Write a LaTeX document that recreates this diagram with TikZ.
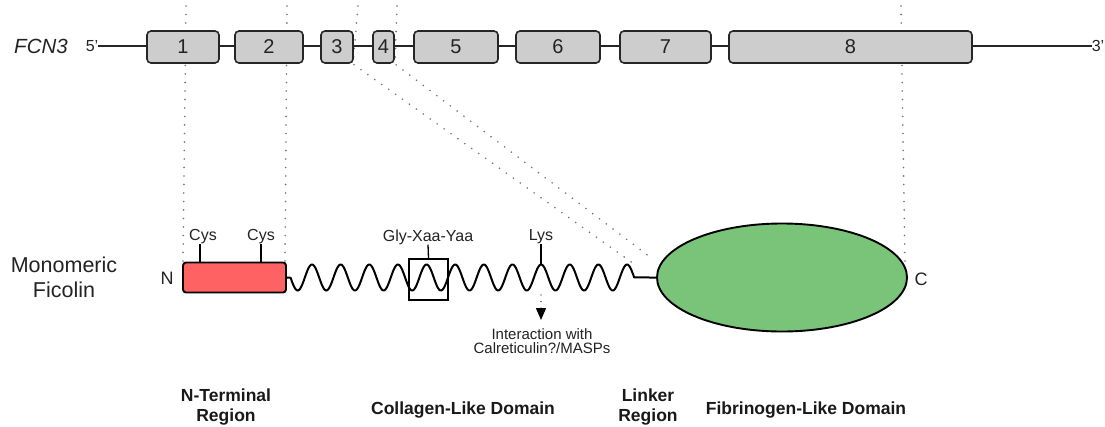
\documentclass[tikz,border=0pt]{standalone}
\usepackage{fontspec}
\setmainfont{Liberation Sans}
\usetikzlibrary{arrows.meta,shapes.geometric}
\definecolor{exgray}{RGB}{205,205,205}
\definecolor{nred}{RGB}{255,98,98}
\definecolor{fgreen}{RGB}{121,196,121}
\definecolor{dotgray}{RGB}{115,115,115}
\definecolor{txt}{RGB}{35,35,35}
\begin{document}
\begin{tikzpicture}[x=1pt,y=-1pt,
  exon/.style={draw=black!85, line width=1.6pt, rounded corners=4pt, fill=exgray,
    minimum height=32pt, inner sep=0pt, text=txt, font=\fontsize{20}{22}\selectfont},
  guide/.style={draw=dotgray, line width=1.8pt, line cap=round, dash pattern=on 0pt off 8.5pt},
  lbl/.style={inner sep=0pt, text=txt, font=\fontsize{16}{18}\selectfont},
  tick/.style={line width=1.3pt},
  region/.style={inner sep=0pt, align=center, text=black!90, font=\bfseries\fontsize{17.5}{20}\selectfont},
]
\useasboundingbox (0,0) rectangle (1105,426);
\fill[white] (0,0) rectangle (1105,426);

% ---- dotted guide lines (behind everything)
\coordinate (g1a) at (186,6);   \coordinate (g1b) at (183,261);
\coordinate (g2a) at (287,6);   \coordinate (g2b) at (285,261);
\coordinate (g3a) at (358,6);   \coordinate (g3b) at (353,64);  \coordinate (g3c) at (634,264);
\coordinate (g4a) at (397,6);   \coordinate (g4b) at (395,64);  \coordinate (g4c) at (650,257);
\coordinate (g8a) at (901,6);   \coordinate (g8b) at (905,266);
\draw[guide] (g1a) -- (g1b);
\draw[guide] (g2a) -- (g2b);
\draw[guide] (g3a) -- (g3b) -- (g3c);
\draw[guide] (g4a) -- (g4b) -- (g4c);
\draw[guide] (g8a) -- (g8b);

% ---- gene row
\node[inner sep=0pt, text=txt, font=\itshape\fontsize{20.5}{22}\selectfont] (fcn) at (41,46) {FCN3};
\node[inner sep=0pt, text=txt, font=\fontsize{16}{18}\selectfont] (p5) at (92,46) {5'};
\node[inner sep=0pt, text=txt, font=\fontsize{16}{18}\selectfont] (p3) at (1098,46) {3'};
\draw[line width=1.6pt, black!85] (p5.east) -- (p3.west);

\node[exon, minimum width=72pt]  (e1) at (183,47)   {1};
\node[exon, minimum width=68pt]  (e2) at (269,47)   {2};
\node[exon, minimum width=32pt]  (e3) at (337,47)   {3};
\node[exon, minimum width=21pt]  (e4) at (383.5,47) {4};
\node[exon, minimum width=84pt]  (e5) at (456,47)   {5};
\node[exon, minimum width=84pt]  (e6) at (558,47)   {6};
\node[exon, minimum width=91pt]  (e7) at (665.5,47) {7};
\node[exon, minimum width=243pt] (e8) at (850.5,47) {8};

% ---- protein row
\node[inner sep=0pt, align=center, text=txt, font=\fontsize{21.5}{25}\selectfont] (mono) at (64,277) {Monomeric\\Ficolin};
\node[draw=black, line width=1.9pt, rounded corners=3pt, fill=nred,
      minimum width=103pt, minimum height=30pt, inner sep=0pt] (nbox) at (234.5,277.5) {};
\node[inner sep=0pt, text=txt, font=\fontsize{18}{20}\selectfont] (nlab) at (167,278) {N};
\node[draw=black, line width=1.9pt, fill=fgreen, ellipse, minimum width=250pt,
      minimum height=108pt, inner sep=0pt] (ell) at (782,277.5) {};
\node[inner sep=0pt, text=txt, font=\fontsize{18}{20}\selectfont] (clab) at (921,279) {C};

% collagen wave + linker
\coordinate (wstart) at (290.5,277.5);
\coordinate (wend) at (634.2,277.5);
\draw[line width=2pt, line join=round] (nbox.east) -- (wstart)
  plot[domain=290.5:634.2, samples=400, smooth] (\x, {277.5 - 13*cos((\x-312)*12.5698)})
  -- (ell.west);

% Cys ticks
\coordinate (c1) at (200,262); \coordinate (c2) at (261,262);
\node[lbl] (cys1) at (203,237) {Cys};
\node[lbl] (cys2) at (261,237) {Cys};
\draw[tick] (c1) -- (cys1.south -| c1);
\draw[tick] (c2) -- (cys2.south -| c2);

% Gly-Xaa-Yaa box
\node[draw=black, line width=1.6pt, minimum width=39pt, minimum height=41pt, inner sep=0pt] (gbox) at (428.5,279.5) {};
\node[lbl] (gly) at (428,237) {Gly-Xaa-Yaa};
\draw[tick] (gbox.north) -- (gly.south);

% Lys
\coordinate (lyst) at (541,264);
\node[lbl] (lys) at (541,237) {Lys};
\draw[tick] (lyst) -- (lys.south -| lyst);

% interaction arrow
\coordinate (lysb) at (541,295);
\coordinate (arrtip) at (541,320);
\draw[line width=1.4pt, dash pattern=on 0pt off 6.5pt, line cap=round,
      -{Triangle[width=10pt,length=12pt]}] (lysb) -- (arrtip);
\node[inner sep=0pt, align=center, text=txt, font=\fontsize{15}{13.5}\selectfont] (inter) at (542,341) {Interaction with\\Calreticulin?/MASPs};

% ---- region labels
\node[region] (rN) at (226,407.5) {N-Terminal\\Region};
\node[region] (rC) at (463,410) {Collagen-Like Domain};
\node[region] (rL) at (648,407.5) {Linker\\Region};
\node[region] (rF) at (806,410) {Fibrinogen-Like Domain};
\end{tikzpicture}
\end{document}
